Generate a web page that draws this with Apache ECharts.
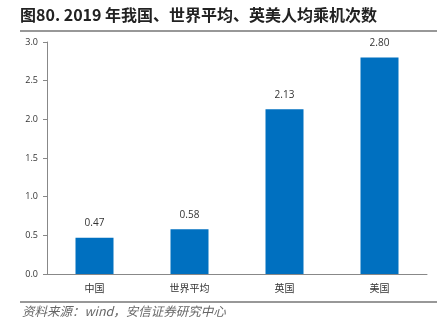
<!DOCTYPE html>
<html>
<head>
<meta charset="utf-8">
<script src="https://cdn.jsdelivr.net/npm/echarts@6/dist/echarts.min.js"></script>
<style>
  html, body { margin: 0; padding: 0; background: #fff; }
  #chart { width: 441px; height: 334px; }
</style>
</head>
<body>
<div id="chart"></div>
<script>
// Per-capita flights, 2019
const categories = ['中国', '世界平均', '英国', '美国'];
const tripsPerCapita = [0.47, 0.58, 2.13, 2.80];
const yTicks = { min: 0, max: 3, interval: 0.5 };

const titleText = '图80. 2019 年我国、世界平均、英美人均乘机次数';
const sourceText = '资料来源：wind，安信证券研究中心';

const chart = echarts.init(document.getElementById('chart'), null, { renderer: 'canvas' });
chart.setOption({
  animation: false,
  backgroundColor: '#ffffff',
  graphic: [
    {
      type: 'text', left: 20, top: 7,
      style: { text: titleText, font: 'bold 16px "Noto Sans CJK SC", sans-serif', fill: '#222' }
    },
    {
      type: 'line', shape: { x1: 20, y1: 31, x2: 437, y2: 31 },
      style: { stroke: '#333', lineWidth: 1.2 }
    },
    {
      type: 'line', shape: { x1: 20, y1: 302, x2: 437, y2: 302 },
      style: { stroke: '#333', lineWidth: 1.2 }
    },
    {
      type: 'text', left: 22, top: 305,
      style: { text: sourceText, font: 'italic 12.5px "Noto Sans CJK SC", sans-serif', fill: '#666' }
    }
  ],
  grid: { left: 47, right: 14, top: 42, bottom: 60 },
  xAxis: {
    type: 'category',
    data: categories,
    axisLine: { lineStyle: { color: '#888', width: 1 } },
    axisTick: { show: false },
    axisLabel: { color: '#333', fontSize: 10, margin: 9, fontFamily: '"Noto Sans CJK SC", sans-serif' }
  },
  yAxis: {
    type: 'value',
    min: yTicks.min, max: yTicks.max, interval: yTicks.interval,
    axisLine: { show: true, lineStyle: { color: '#888', width: 1 } },
    axisTick: { show: true, length: 4, lineStyle: { color: '#888' } },
    splitLine: { show: false },
    axisLabel: {
      color: '#333', fontSize: 9, margin: 9,
      fontFamily: '"Open Sans", sans-serif',
      formatter: v => v.toFixed(1)
    }
  },
  series: [{
    type: 'bar',
    data: tripsPerCapita,
    barWidth: '40%',
    itemStyle: { color: '#0070C0' },
    label: {
      show: true, position: 'top', distance: 9,
      color: '#333', fontSize: 10, fontFamily: '"Open Sans", sans-serif',
      formatter: p => p.value.toFixed(2)
    }
  }]
});
</script>
</body>
</html>
